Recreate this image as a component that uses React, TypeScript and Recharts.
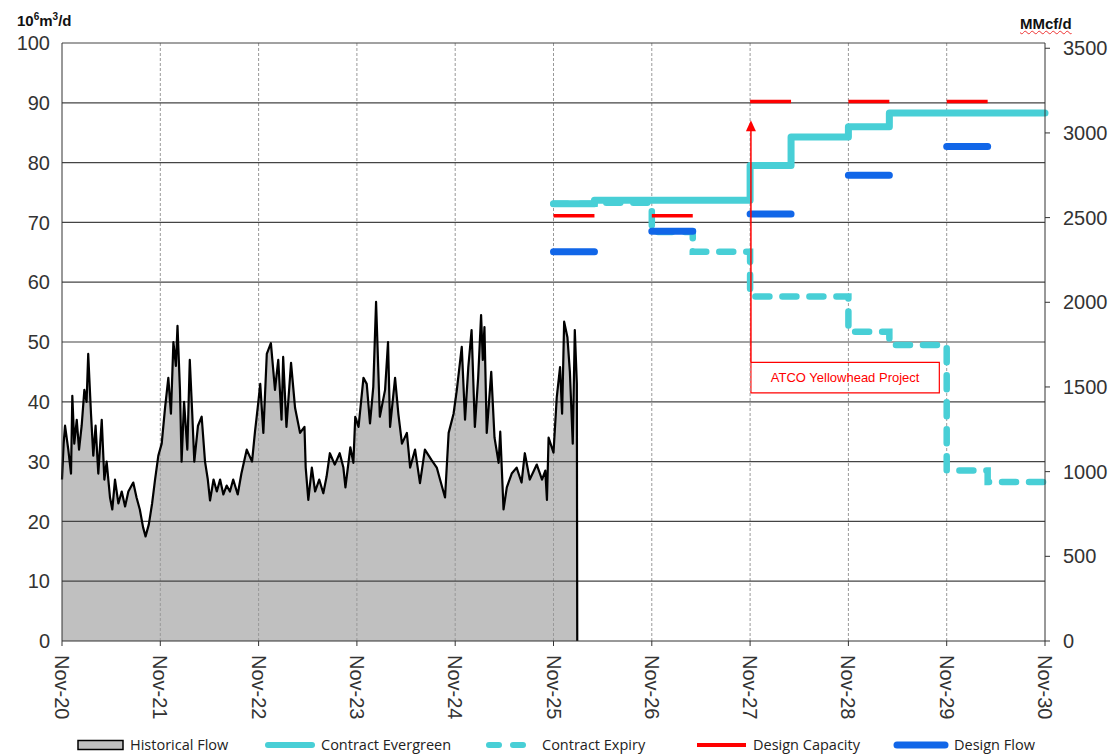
import {
  ComposedChart,
  Area,
  Line,
  XAxis,
  YAxis,
  ReferenceLine,
  ReferenceArea,
} from 'recharts'

// months counted from Nov-20
const yearTicks = [0, 12, 24, 36, 48, 60, 72, 84, 96, 108, 120]
const yearLabels = ['Nov-20', 'Nov-21', 'Nov-22', 'Nov-23', 'Nov-24', 'Nov-25', 'Nov-26', 'Nov-27', 'Nov-28', 'Nov-29', 'Nov-30']
const leftTicks = [0, 10, 20, 30, 40, 50, 60, 70, 80, 90, 100]
const rightTicks = [0, 500, 1000, 1500, 2000, 2500, 3000, 3500]
const MMCF_PER_UNIT = 35.31 // 10^6 m3/d -> MMcf/d

// [month, 10^6 m3/d]
const historicalFlow: [number, number][] = [
  [0, 27], [0.2, 33], [0.37, 36], [0.77, 32], [1.1, 28], [1.26, 41], [1.5, 33], [1.8, 37],
  [2.08, 32], [2.4, 36], [2.73, 42], [3.0, 40], [3.2, 48], [3.54, 38], [3.82, 31], [4.1, 36],
  [4.43, 28], [4.85, 37], [5.17, 27], [5.45, 30], [5.86, 24], [6.14, 22], [6.47, 27], [6.88, 23],
  [7.29, 25], [7.7, 22.5], [8.1, 25], [8.7, 26.5], [9.1, 24], [9.5, 22], [9.9, 19], [10.2, 17.5],
  [10.6, 19.5], [11.0, 23], [11.36, 27], [11.76, 31], [12.17, 33], [12.58, 39], [12.98, 44], [13.3, 38],
  [13.6, 50], [13.9, 46], [14.1, 52.7], [14.4, 42], [14.6, 30], [14.9, 40], [15.3, 32], [15.6, 47],
  [15.9, 38], [16.15, 30], [16.6, 36], [17.05, 37.5], [17.46, 30], [17.8, 27], [18.07, 23.5], [18.5, 27],
  [18.9, 25], [19.3, 27], [19.7, 24.5], [20.1, 26], [20.5, 25], [20.9, 27], [21.45, 24.5], [21.9, 28],
  [22.55, 32], [23.2, 30], [23.56, 35], [23.97, 40], [24.2, 43], [24.58, 34.8], [25.0, 48], [25.5, 49.8],
  [26.0, 42], [26.4, 47], [26.8, 37], [27.0, 47.5], [27.4, 35.8], [27.96, 46.5], [28.45, 39], [29.06, 34.8],
  [29.6, 35.8], [29.75, 29], [30.07, 23.6], [30.5, 29], [30.9, 25], [31.4, 27], [31.9, 24.7], [32.3, 27.5],
  [32.7, 31.4], [33.3, 29.5], [33.9, 31.4], [34.35, 29], [34.6, 25.7], [35.2, 32.4], [35.57, 29.8], [35.8, 37.5],
  [36.2, 35.8], [36.8, 44], [37.2, 43], [37.6, 36.4], [38.0, 42.5], [38.34, 56.7], [38.8, 37.5], [39.44, 42],
  [39.8, 50], [40.05, 35.8], [40.66, 44], [41.06, 38], [41.5, 33], [42.1, 34.8], [42.5, 29], [43.1, 32],
  [43.7, 26.4], [44.3, 32], [45.1, 30.3], [45.75, 29], [46.15, 27], [46.76, 24], [47.2, 34.8], [47.8, 38],
  [48.2, 42], [48.8, 49.2], [49.2, 37], [49.6, 45.8], [50.0, 52], [50.4, 35.8], [50.8, 44], [51.16, 54.5],
  [51.37, 47], [51.57, 52.5], [51.85, 34.8], [52.4, 45], [52.8, 34], [53.3, 29.8], [53.5, 35], [53.9, 22],
  [54.3, 25.7], [54.9, 28], [55.5, 29], [56.1, 26.5], [56.5, 31.4], [57.1, 27], [57.96, 29.5], [58.6, 27],
  [59.0, 28.5], [59.2, 23.6], [59.4, 34], [60.0, 31.5], [60.4, 40.8], [60.8, 45.8], [61.05, 38], [61.3, 53.4],
  [61.7, 50.8], [62.0, 45], [62.35, 33], [62.6, 52], [62.85, 43], [62.9, 0],
]

// step series: [month, value]
const contractEvergreen: [number, number][] = [
  [60, 73.1], [65, 73.7], [84, 79.5], [89, 84.3], [96, 86.0], [101, 88.3], [120, 88.3],
]
const contractExpiry: [number, number][] = [
  [60, 73.1], [65, 73.3], [72, 68.4], [77, 65.1], [84, 57.6], [96, 51.7], [101, 49.5],
  [108, 28.5], [113, 26.6], [120, 26.6],
]

// segments: [start month, end month, value]
const designCapacity: [number, number, number][] = [
  [60, 65, 71.1], [72, 77, 71.1], [84, 89, 90.2], [96, 101, 90.2], [108, 113, 90.2],
]
const designFlow: [number, number, number][] = [
  [60, 65, 65.1], [72, 77, 68.5], [84, 89, 71.4], [96, 101, 77.9], [108, 113, 82.7],
]

const CYAN = '#48CFD6'
const RED = '#FF0000'
const BLUE = '#1166E8'

const toPoints = (arr: [number, number][]) => arr.map(([m, v]) => ({ m, v }))

const toSegments = (arr: [number, number, number][]) => {
  const out: { m: number; v: number | null }[] = []
  arr.forEach(([s, e, v], i) => {
    if (i > 0) out.push({ m: (arr[i - 1][1] + s) / 2, v: null })
    out.push({ m: s, v }, { m: e, v })
  })
  return out
}

const histData = toPoints(historicalFlow)
const evergreenData = toPoints(contractEvergreen)
const evergreenMmcf = contractEvergreen.map(([m, v]) => ({ m, v: v * MMCF_PER_UNIT }))
const expiryData = toPoints(contractExpiry)
const capacityData = toSegments(designCapacity)
const flowData = toSegments(designFlow)

const axisFont = { fontFamily: 'Liberation Sans, Arial, sans-serif', fontSize: 20, fill: '#333' }

function MonthTick(props: any) {
  const { x, y, payload } = props
  const label = yearLabels[yearTicks.indexOf(payload.value)]
  return (
    <text
      x={x}
      y={y}
      dy="0.35em"
      textAnchor="start"
      transform={`rotate(90, ${x}, ${y})`}
      {...axisFont}
    >
      {label}
    </text>
  )
}

function ArrowShape(props: any) {
  const { x1, y1, x2, y2 } = props
  const top = Math.min(y1, y2)
  const bottom = Math.max(y1, y2)
  return (
    <g>
      <line x1={x1} y1={bottom} x2={x2} y2={top + 10} stroke={RED} strokeWidth={1.5} />
      <path d={`M${x2},${top} L${x2 - 5},${top + 11} L${x2 + 5},${top + 11} Z`} fill={RED} />
    </g>
  )
}

const legendItems = [
  { label: 'Historical Flow', left: 69, kind: 'area' },
  { label: 'Contract Evergreen', left: 256, kind: 'evergreen' },
  { label: 'Contract Expiry', left: 477, kind: 'expiry' },
  { label: 'Design Capacity', left: 688, kind: 'capacity' },
  { label: 'Design Flow', left: 885, kind: 'flow' },
]

function Swatch({ kind }: { kind: string }) {
  if (kind === 'area') {
    return (
      <svg width={48} height={12}>
        <rect x={1} y={1.5} width={45} height={9} fill="#C0C0C0" stroke="#000" strokeWidth={1.5} />
      </svg>
    )
  }
  const common = { strokeLinecap: 'round' as const }
  if (kind === 'evergreen')
    return (
      <svg width={52} height={12}>
        <line x1={4} y1={6} x2={48} y2={6} stroke={CYAN} strokeWidth={6} {...common} />
      </svg>
    )
  if (kind === 'expiry')
    return (
      <svg width={52} height={12}>
        <line x1={4} y1={6} x2={48} y2={6} stroke={CYAN} strokeWidth={6} strokeDasharray="10 14" {...common} />
      </svg>
    )
  if (kind === 'capacity')
    return (
      <svg width={52} height={12}>
        <line x1={1} y1={6} x2={50} y2={6} stroke={RED} strokeWidth={4} />
      </svg>
    )
  return (
    <svg width={56} height={12}>
      <line x1={4} y1={6} x2={52} y2={6} stroke={BLUE} strokeWidth={7} {...common} />
    </svg>
  )
}

export default function App() {
  return (
    <div style={{ position: 'relative', width: 1110, height: 748 }}>
      <div
        style={{
          position: 'absolute',
          left: 9,
          top: 3,
          fontFamily: 'Liberation Sans, Arial, sans-serif',
          fontWeight: 'bold',
          fontSize: 15,
          color: '#111',
        }}
      >
        10<sup style={{ fontSize: 10 }}>6</sup>m<sup style={{ fontSize: 10 }}>3</sup>/d
      </div>
      <div
        style={{
          position: 'absolute',
          left: 1012,
          top: 7,
          fontFamily: 'Liberation Sans, Arial, sans-serif',
          fontWeight: 'bold',
          fontSize: 15,
          color: '#111',
          textDecoration: 'underline wavy #e33',
          textDecorationThickness: 1,
        }}
      >
        MMcf/d
      </div>

      <ComposedChart width={1110} height={712} margin={{ top: 35, right: 0, bottom: 0, left: 0 }}>
        <XAxis
          dataKey="m"
          type="number"
          domain={[0, 120]}
          ticks={yearTicks}
          interval={0}
          height={79}
          stroke="#333"
          tickSize={5}
          tickMargin={9}
          tick={<MonthTick />}
          allowDuplicatedCategory={false}
        />
        <YAxis
          yAxisId="left"
          domain={[0, 100]}
          ticks={leftTicks}
          interval={0}
          width={54}
          stroke="#333"
          tickLine={false}
          tickSize={0}
          tickMargin={12}
          tick={axisFont}
        />
        <YAxis
          yAxisId="right"
          orientation="right"
          domain={[0, 100 * MMCF_PER_UNIT]}
          ticks={rightTicks}
          interval={0}
          width={73}
          stroke="#333"
          tickSize={5}
          tickMargin={13}
          tick={{ ...axisFont, textAnchor: 'start' }}
        />

        {/* fill first, grid over it, then the flow trace */}
        <Area
          yAxisId="left"
          data={histData}
          dataKey="v"
          type="linear"
          stroke="none"
          fill="#C0C0C0"
          fillOpacity={1}
          isAnimationActive={false}
          dot={false}
          activeDot={false}
        />
        {yearTicks.slice(1, -1).map((t) => (
          <ReferenceLine key={`v${t}`} yAxisId="left" x={t} stroke="#999" strokeDasharray="3 2" />
        ))}
        {leftTicks.slice(1).map((t) => (
          <ReferenceLine key={`h${t}`} yAxisId="left" y={t} stroke="#444" strokeWidth={1.2} />
        ))}
        <Line
          yAxisId="left"
          data={histData}
          dataKey="v"
          type="linear"
          stroke="#000"
          strokeWidth={2.2}
          strokeLinejoin="round"
          dot={false}
          isAnimationActive={false}
        />
        <Line
          yAxisId="right"
          data={evergreenMmcf}
          dataKey="v"
          type="stepAfter"
          stroke="transparent"
          dot={false}
          activeDot={false}
          isAnimationActive={false}
        />
        <Line
          yAxisId="left"
          data={expiryData}
          dataKey="v"
          type="stepAfter"
          stroke={CYAN}
          strokeWidth={6.5}
          strokeDasharray="14 13"
          strokeLinecap="round"
          dot={false}
          isAnimationActive={false}
        />
        <Line
          yAxisId="left"
          data={evergreenData}
          dataKey="v"
          type="stepAfter"
          stroke={CYAN}
          strokeWidth={7}
          strokeLinecap="round"
          strokeLinejoin="round"
          dot={false}
          isAnimationActive={false}
        />
        <Line
          yAxisId="left"
          data={capacityData}
          dataKey="v"
          type="linear"
          stroke={RED}
          strokeWidth={3.5}
          connectNulls={false}
          dot={false}
          isAnimationActive={false}
        />
        <Line
          yAxisId="left"
          data={flowData}
          dataKey="v"
          type="linear"
          stroke={BLUE}
          strokeWidth={7}
          strokeLinecap="round"
          connectNulls={false}
          dot={false}
          isAnimationActive={false}
        />

        <ReferenceLine
          yAxisId="left"
          segment={[
            { x: 84.1, y: 46.6 },
            { x: 84.1, y: 87.1 },
          ]}
          stroke={RED}
          shape={<ArrowShape />}
        />
        <ReferenceArea
          yAxisId="left"
          x1={84.1}
          x2={107.1}
          y1={41.5}
          y2={46.6}
          stroke={RED}
          strokeWidth={1.2}
          fill="none"
          fillOpacity={0}
          label={{
            value: 'ATCO Yellowhead Project',
            position: 'center',
            fill: RED,
            fontSize: 13,
            fontFamily: 'Liberation Sans, Arial, sans-serif',
          }}
        />
      </ComposedChart>

      {legendItems.map((it) => (
        <div
          key={it.label}
          style={{
            position: 'absolute',
            left: it.left,
            top: 727,
            display: 'flex',
            alignItems: 'center',
            fontFamily: 'Open Sans, sans-serif',
            fontSize: 14.5,
            color: '#222',
            whiteSpace: 'nowrap',
          }}
        >
          <Swatch kind={it.kind} />
          <span style={{ marginLeft: 5 }}>{it.label}</span>
        </div>
      ))}
    </div>
  )
}
